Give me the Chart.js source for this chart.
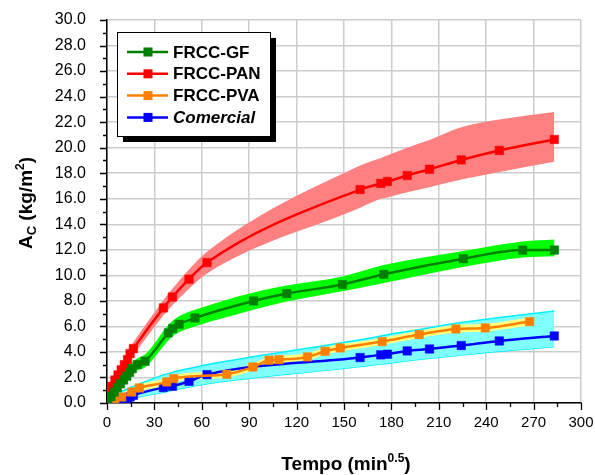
<!DOCTYPE html>
<html>
<head>
<meta charset="utf-8">
<script src="https://cdn.jsdelivr.net/npm/chart.js@4"></script>
<style>
  html, body { margin: 0; padding: 0; background: #fff; }
  #wrap { width: 595px; height: 475px; }
</style>
</head>
<body>
<div id="wrap"><canvas id="acChart" width="595" height="475"></canvas></div>
<script>
// PAN and Comercial were measured at the same times
const tX    = [1, 3, 5, 7, 9, 11, 13, 14.6, 16.7, 35.7, 41.4, 51.9, 63.3, 160.2, 173.3, 177.5, 190.0, 204.1, 224.2, 248.3, 283.1];
const panY  = [0.8, 1.3, 1.8, 2.2, 2.6, 3.0, 3.4, 3.87, 4.26, 7.45, 8.3, 9.7, 11.0, 16.72, 17.2, 17.35, 17.82, 18.31, 19.04, 19.78, 20.64];
const panHi = [1.0, 1.6, 2.1, 2.6, 3.0, 3.4, 3.8, 4.35, 4.75, 8.05, 8.95, 10.45, 11.85, 18.6, 19.2, 19.4, 20.0, 20.6, 21.6, 22.2, 22.8];
const panLo = [0.6, 1.0, 1.5, 1.8, 2.2, 2.6, 3.0, 3.4, 3.75, 6.85, 7.65, 8.95, 10.15, 15.3, 16.0, 16.1, 16.5, 16.9, 17.5, 18.1, 18.9];

const comY  = [0.0, 0.05, 0.1, 0.15, 0.2, 0.3, 0.4, 0.47, 0.6, 1.21, 1.31, 1.7, 2.22, 3.56, 3.77, 3.82, 4.08, 4.23, 4.5, 4.86, 5.25];
const comHi = [0.3, 0.45, 0.6, 0.75, 0.9, 1.0, 1.1, 1.2, 1.3, 2.2, 2.4, 2.7, 3.0, 4.95, 5.25, 5.35, 5.6, 5.9, 6.3, 6.7, 7.2];
const comLo = [0.0, 0.0, 0.0, 0.0, 0.05, 0.1, 0.15, 0.25, 0.35, 0.85, 1.0, 1.25, 1.5, 2.85, 3.05, 3.1, 3.3, 3.5, 3.75, 4.05, 4.4];

const gfX  = [0.5, 2.5, 4.5, 6.5, 8.5, 10.5, 12.5, 14.3, 16.0, 19.2, 24.1, 38.8, 41.6, 45.6, 55.7, 92.7, 113.8, 149.0, 175.2, 225.5, 263.1, 283.2];
const gfY  = [0.2, 0.5, 0.85, 1.2, 1.5, 1.8, 2.1, 2.4, 2.69, 3.01, 3.27, 5.49, 5.83, 6.17, 6.66, 7.99, 8.57, 9.28, 10.08, 11.3, 11.98, 11.98];
const gfHi = [0.45, 0.85, 1.2, 1.55, 1.9, 2.2, 2.5, 2.85, 3.15, 3.5, 3.8, 6.1, 6.45, 6.8, 7.3, 8.65, 9.2, 9.9, 10.8, 11.9, 12.65, 12.8];
const gfLo = [0.0, 0.15, 0.45, 0.8, 1.1, 1.4, 1.7, 1.95, 2.25, 2.55, 2.8, 4.9, 5.25, 5.55, 6.0, 7.3, 7.95, 8.75, 9.4, 10.65, 11.4, 11.5];

const pvaX  = [0.5, 5.0, 9.3, 15.6, 20.5, 37.8, 42.2, 75.8, 92.3, 102.6, 108.9, 126.9, 138.0, 147.6, 174.2, 197.6, 220.8, 239.4, 267.5];
const pvaY  = [0.0, 0.2, 0.47, 0.86, 1.18, 1.65, 1.91, 2.25, 2.82, 3.35, 3.4, 3.61, 4.05, 4.31, 4.81, 5.36, 5.8, 5.88, 6.38];
const pvaHi = [0.25, 0.5, 0.75, 1.15, 1.45, 1.95, 2.2, 2.55, 3.1, 3.6, 3.7, 3.9, 4.35, 4.6, 5.1, 5.65, 6.1, 6.2, 6.7];
const pvaLo = [0.0, 0.0, 0.25, 0.6, 0.9, 1.4, 1.65, 2.0, 2.55, 3.05, 3.15, 3.35, 3.8, 4.05, 4.55, 5.1, 5.5, 5.6, 6.05];

const seriesNames = ['FRCC-GF', 'FRCC-PAN', 'FRCC-PVA', 'Comercial'];
const seriesColors = ['#008000', '#ff0000', '#ff8000', '#0000ff'];
const xTickStep = 30;
const yTickStep = 2;

const FONT = '"Liberation Sans", Arial, Helvetica, sans-serif';

const pts = (xs, ys) => xs.map((x, i) => ({ x: x, y: ys[i] }));

const line = (i, xs, ys) => ({
    label: seriesNames[i],
    data: pts(xs, ys),
    borderColor: seriesColors[i],
    backgroundColor: seriesColors[i],
    borderWidth: 2.5,
    pointStyle: 'rect',
    pointRadius: 6,
    pointBorderWidth: 0.5,
    cubicInterpolationMode: 'monotone',
    fill: false
});

const band = (xs, ys, color, edge, upper) => ({
    label: '',
    data: pts(xs, ys),
    borderColor: edge || 'rgba(0,0,0,0)',
    borderWidth: edge ? 1.5 : 0,
    backgroundColor: color,
    pointRadius: 0,
    cubicInterpolationMode: 'monotone',
    fill: upper ? '+1' : false
});

// draws the minor/major tick marks outside the axes
const axisTicks = {
    id: 'axisTicks',
    afterDraw(chart) {
        const ctx = chart.ctx;
        const xs = chart.scales.x, ys = chart.scales.y;
        ctx.save();
        ctx.strokeStyle = '#000';
        ctx.lineWidth = 1.3;
        ctx.beginPath();
        for (let v = 0; v <= 300; v += xTickStep / 2) {
            const px = Math.round(xs.getPixelForValue(v)) + 0.5;
            const len = v % xTickStep === 0 ? 7 : 4;
            ctx.moveTo(px, ys.bottom);
            ctx.lineTo(px, ys.bottom + len);
        }
        for (let v = 0; v <= 30; v += yTickStep / 2) {
            const py = Math.round(ys.getPixelForValue(v)) + 0.5;
            const len = v % yTickStep === 0 ? 7 : 4;
            ctx.moveTo(xs.left, py);
            ctx.lineTo(xs.left - len, py);
        }
        ctx.stroke();
        ctx.restore();
    }
};

function drawRich(ctx, parts, cx, cy) {
    let total = 0;
    parts.forEach(p => {
        ctx.font = p.font;
        p.w = ctx.measureText(p.t).width;
        total += p.w;
    });
    let x = cx - total / 2;
    parts.forEach(p => {
        ctx.font = p.font;
        ctx.fillText(p.t, x, cy + (p.dy || 0));
        x += p.w;
    });
}

const axisTitles = {
    id: 'axisTitles',
    afterDraw(chart) {
        const ctx = chart.ctx;
        const big = 'bold 19px ' + FONT, small = 'bold 12px ' + FONT, sub = 'bold 13px ' + FONT;
        ctx.save();
        ctx.fillStyle = '#000';
        ctx.textAlign = 'left';
        ctx.textBaseline = 'alphabetic';
        drawRich(ctx, [
            { t: 'Tempo (min', font: big },
            { t: '0.5', font: small, dy: -8 },
            { t: ')', font: big }
        ], 346, 470);
        ctx.translate(32, 203);
        ctx.rotate(-Math.PI / 2);
        drawRich(ctx, [
            { t: 'A', font: big },
            { t: 'C', font: sub, dy: 4 },
            { t: ' (kg/m', font: big },
            { t: '2', font: small, dy: -8 },
            { t: ')', font: big }
        ], 0, 0);
        ctx.restore();
    }
};

const boxLegend = {
    id: 'boxLegend',
    afterDraw(chart) {
        const ctx = chart.ctx;
        const bx = 117, by = 32, bw = 153, bh = 104;
        ctx.save();
        ctx.fillStyle = '#000';
        ctx.fillRect(bx + 6, by + 6, bw, bh);
        ctx.fillStyle = '#fff';
        ctx.fillRect(bx, by, bw, bh);
        ctx.strokeStyle = '#000';
        ctx.lineWidth = 1;
        ctx.strokeRect(bx + 0.5, by + 0.5, bw, bh);
        seriesNames.forEach((name, i) => {
            const y = 52 + i * 21.8;
            ctx.strokeStyle = seriesColors[i];
            ctx.lineWidth = 2.5;
            ctx.beginPath();
            ctx.moveTo(127, y);
            ctx.lineTo(168, y);
            ctx.stroke();
            ctx.fillStyle = seriesColors[i];
            ctx.fillRect(143.5, y - 4.5, 9, 9);
            ctx.fillStyle = '#000';
            ctx.font = (i === 3 ? 'italic bold 17px ' : 'bold 17px ') + FONT;
            ctx.textBaseline = 'middle';
            ctx.fillText(name, 173, y + 1);
        });
        ctx.restore();
    }
};

const ctx = document.getElementById('acChart').getContext('2d');
new Chart(ctx, {
    type: 'line',
    data: {
        datasets: [
            line(0, gfX, gfY),
            line(1, tX, panY),
            line(2, pvaX, pvaY),
            line(3, tX, comY),
            band(pvaX, pvaHi, '#ffff80', null, true),
            band(pvaX, pvaLo, '#ffff80', null, false),
            band(tX, comHi, '#80ffff', '#00f0ff', true),
            band(tX, comLo, '#80ffff', '#00f0ff', false),
            band(gfX, gfHi, '#00ff00', null, true),
            band(gfX, gfLo, '#00ff00', null, false),
            band(tX, panHi, '#ff8080', null, true),
            band(tX, panLo, '#ff8080', null, false)
        ]
    },
    options: {
        responsive: false,
        animation: false,
        devicePixelRatio: 1,
        layout: { padding: { top: 20, right: 14, left: 0, bottom: 0 } },
        plugins: {
            legend: { display: false },
            tooltip: { enabled: false },
            title: { display: false }
        },
        scales: {
            x: {
                type: 'linear',
                min: 0,
                max: 300,
                ticks: { stepSize: xTickStep, color: '#000', font: { family: FONT, size: 15 }, padding: 11, maxRotation: 0 },
                grid: { color: '#cccccc', lineWidth: 1.5, drawTicks: false },
                border: { display: true, color: '#000', width: 1.5 },
                afterFit: s => { s.height = 72; s.paddingLeft = 0; s.paddingRight = 0; }
            },
            y: {
                type: 'linear',
                min: 0,
                max: 30,
                ticks: { stepSize: yTickStep, color: '#000', font: { family: FONT, size: 16 }, padding: 21,
                         callback: v => v.toFixed(1) },
                grid: { color: '#cccccc', lineWidth: 1.5, drawTicks: false },
                border: { display: true, color: '#000', width: 1.5 },
                afterFit: s => { s.width = 107; s.paddingTop = 0; s.paddingBottom = 0; }
            }
        }
    },
    plugins: [axisTicks, axisTitles, boxLegend]
});
</script>
</body>
</html>
